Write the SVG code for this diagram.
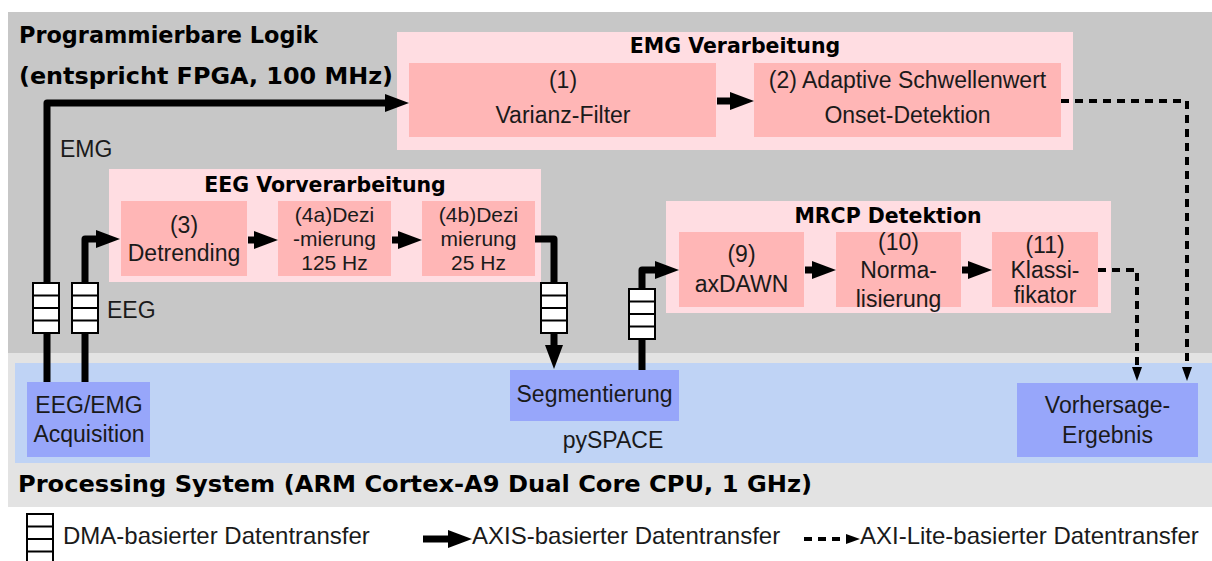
<svg xmlns="http://www.w3.org/2000/svg" width="1212" height="561" viewBox="0 0 1212 561">
<style>
.t{font-family:"Liberation Sans",Arial,sans-serif;font-size:23px;fill:#1a1a1a;text-anchor:middle}
.s{font-size:21px}
.l{text-anchor:start}
.lg{font-size:24px}
.b{font-family:"DejaVu Sans","Liberation Sans",sans-serif;font-weight:bold;fill:#000}
.sec{font-size:20.5px;text-anchor:middle}
.big{font-size:23.5px}
.outer{fill:#ffdde2}
.inner{fill:#ffb6b6}
.bluebox{fill:#97a6fa}
.axis{fill:none;stroke:#000;stroke-width:7;stroke-linejoin:round}
.lite{fill:none;stroke:#000;stroke-width:4;stroke-dasharray:8 6}
.dma{fill:#fff;stroke:#000;stroke-width:2}
</style>
<defs>
<marker id="ah" markerUnits="userSpaceOnUse" markerWidth="24" markerHeight="18" refX="2" refY="9" orient="auto"><path d="M0,0 L24,9 L0,18 z" fill="#000"/></marker>
<marker id="dh" markerUnits="userSpaceOnUse" markerWidth="14" markerHeight="10" refX="1" refY="5" orient="auto"><path d="M0,0 L14,5 L0,10 z" fill="#000"/></marker>
<g id="dmaicon"><rect class="dma" x="0" y="0" width="26" height="50"/><path d="M0,12.5 H26 M0,25 H26 M0,37.5 H26" stroke="#000" stroke-width="2"/></g>
</defs>

<g id="background">
<rect x="8" y="12" width="1204" height="341" fill="#c7c7c7"/>
<rect x="8" y="353" width="1204" height="154" fill="#e3e3e3"/>
<rect x="15" y="363" width="1197" height="100" fill="#bfd3f5"/>
<text class="b big" x="19" y="43" textLength="299" lengthAdjust="spacingAndGlyphs">Programmierbare Logik</text>
<text class="b big" x="19" y="84" textLength="374" lengthAdjust="spacingAndGlyphs">(entspricht FPGA, 100 MHz)</text>
<text class="b big" x="18" y="492" textLength="794" lengthAdjust="spacingAndGlyphs">Processing System (ARM Cortex-A9 Dual Core CPU, 1 GHz)</text>
<text class="t" x="613" y="448">pySPACE</text>
</g>

<g id="emg-verarbeitung">
<rect class="outer" x="397" y="32" width="676" height="118"/>
<text class="b sec" x="735" y="53">EMG Verarbeitung</text>
</g>
<g id="node1">
<rect class="inner" x="409" y="63" width="307" height="74"/>
<text class="t" x="563" y="88">(1)</text>
<text class="t" x="563" y="123">Varianz-Filter</text>
</g>
<g id="node2">
<rect class="inner" x="754" y="63" width="307" height="74"/>
<text class="t" x="907.5" y="88">(2) Adaptive Schwellenwert</text>
<text class="t" x="907.5" y="123">Onset-Detektion</text>
</g>

<g id="eeg-vorverarbeitung">
<rect class="outer" x="109" y="169" width="432" height="113"/>
<text class="b sec" x="325" y="192">EEG Vorverarbeitung</text>
</g>
<g id="node3">
<rect class="inner" x="121" y="201" width="126" height="75"/>
<text class="t" x="184" y="233">(3)</text>
<text class="t" x="184" y="261">Detrending</text>
</g>
<g id="node4a">
<rect class="inner" x="278" y="201" width="113" height="75"/>
<text class="t s" x="334.5" y="222">(4a)Dezi</text>
<text class="t s" x="334.5" y="246">-mierung</text>
<text class="t s" x="334.5" y="270">125 Hz</text>
</g>
<g id="node4b">
<rect class="inner" x="422" y="201" width="113" height="75"/>
<text class="t s" x="478.5" y="222">(4b)Dezi</text>
<text class="t s" x="478.5" y="246">mierung</text>
<text class="t s" x="478.5" y="270">25 Hz</text>
</g>

<g id="mrcp-detektion">
<rect class="outer" x="666" y="201" width="445" height="112"/>
<text class="b sec" x="888" y="223">MRCP Detektion</text>
</g>
<g id="node9">
<rect class="inner" x="679" y="232" width="125" height="75"/>
<text class="t" x="741.5" y="262">(9)</text>
<text class="t" x="741.5" y="292">axDAWN</text>
</g>
<g id="node10">
<rect class="inner" x="836" y="232" width="125" height="75"/>
<text class="t" x="898.5" y="250">(10)</text>
<text class="t" x="898.5" y="278">Norma-</text>
<text class="t" x="898.5" y="307">lisierung</text>
</g>
<g id="node11">
<rect class="inner" x="992" y="232" width="106" height="75"/>
<text class="t" x="1045" y="253">(11)</text>
<text class="t" x="1045" y="278">Klassi-</text>
<text class="t" x="1045" y="303">fikator</text>
</g>

<g id="acquisition">
<rect class="bluebox" x="27" y="382" width="123" height="75"/>
<text class="t" x="89" y="413">EEG/EMG</text>
<text class="t" x="89" y="442">Acquisition</text>
</g>
<g id="segmentierung">
<rect class="bluebox" x="510" y="370" width="169" height="51"/>
<text class="t" x="594.5" y="402">Segmentierung</text>
</g>
<g id="vorhersage">
<rect class="bluebox" x="1017" y="383" width="181" height="74"/>
<text class="t" x="1107.5" y="413">Vorhersage-</text>
<text class="t" x="1107.5" y="443">Ergebnis</text>
</g>

<g id="connectors">
<path class="axis" d="M47,382 V103 H387" marker-end="url(#ah)"/>
<path class="axis" d="M85,382 V239 H98" marker-end="url(#ah)"/>
<path class="axis" d="M248,240 H256" marker-end="url(#ah)"/>
<path class="axis" d="M392,240 H400" marker-end="url(#ah)"/>
<path class="axis" d="M535,239 H554 V347" marker-end="url(#ah)"/>
<path class="axis" d="M642,370 V270 H657" marker-end="url(#ah)"/>
<path class="axis" d="M805,270 H814" marker-end="url(#ah)"/>
<path class="axis" d="M962,270 H970" marker-end="url(#ah)"/>
<path class="axis" d="M717,101 H732" marker-end="url(#ah)"/>
<path class="lite" d="M1061,101 H1187 V368" marker-end="url(#dh)"/>
<path class="lite" d="M1098,270 H1137 V368" marker-end="url(#dh)"/>
<use href="#dmaicon" x="33" y="283"/>
<use href="#dmaicon" x="72" y="283"/>
<use href="#dmaicon" x="541" y="283"/>
<use href="#dmaicon" x="629" y="289"/>
<text class="t l" x="60" y="157">EMG</text>
<text class="t l" x="107" y="318">EEG</text>
</g>

<g id="legend">
<use href="#dmaicon" x="27" y="514"/>
<text class="t l lg" x="63" y="544">DMA-basierter Datentransfer</text>
<path class="axis" d="M423,539 H450" marker-end="url(#ah)"/>
<text class="t l lg" x="472" y="544">AXIS-basierter Datentransfer</text>
<path class="lite" d="M804,539 H847" marker-end="url(#dh)"/>
<text class="t l lg" x="860" y="544">AXI-Lite-basierter Datentransfer</text>
</g>
</svg>
